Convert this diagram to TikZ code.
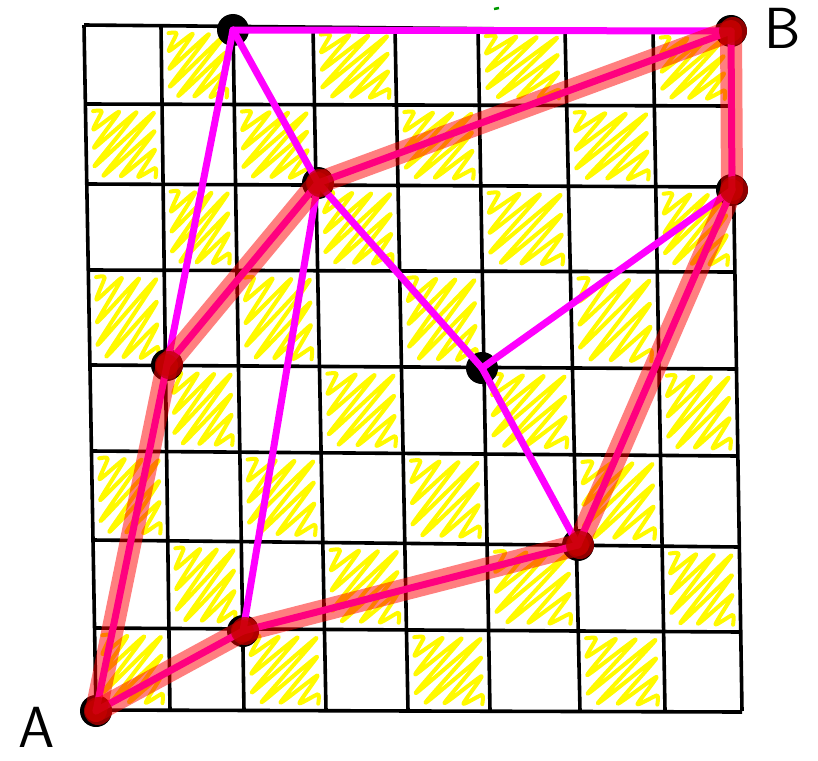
\documentclass[tikz,border=0pt]{standalone}
\usepackage{tikz}
\definecolor{linkpink}{RGB}{255,0,255}
\definecolor{scribbleyellow}{RGB}{255,250,0}

\begin{document}
\begin{tikzpicture}[x=1pt, y=-1pt,
  gridline/.style={black, line width=3.6pt},
  scribble/.style={scribbleyellow, line width=4pt, line join=round, line cap=round},
  link/.style={linkpink, line width=7pt, line cap=round},
  band/.style={red, opacity=0.5, line width=22pt, line cap=round},
  dot/.style={circle, fill=black, inner sep=0pt, minimum size=32pt},
  reddot/.style={fill=red!75!black, opacity=0.75},
  letter/.style={font=\fontsize{58}{58}\sffamily, inner sep=0pt}]
  \useasboundingbox (0,0) rectangle (818,760);

  % hand drawn grid: ends of each line
  \def\vtop{{84,161,233,313,395,478,565,653,731}}
  \def\vbot{{96,170,244,326,408,490,580,665,742}}
  \def\hleft{{25,104,184,270,365,451,540,628,710}}
  \def\hright{{31,106,187,272,369,456,547,632,712}}

  % scribbled cells
  \foreach \row in {0,...,7} {
    \foreach \col in {0,...,7} {
      \pgfmathtruncatemacro\odd{mod(\row+\col,2)}
      \ifnum\odd=1
        \pgfmathtruncatemacro\rn{\row+1}
        \pgfmathtruncatemacro\cn{\col+1}
        \pgfmathsetmacro\g{(\col+0.5)/8}
        \pgfmathsetmacro\ya{\hleft[\row]+(\hright[\row]-\hleft[\row])*\g}
        \pgfmathsetmacro\yb{\hleft[\rn]+(\hright[\rn]-\hleft[\rn])*\g}
        \pgfmathsetmacro\f{((\ya+\yb)/2-25)/686}
        \pgfmathsetmacro\xa{\vtop[\col]+(\vbot[\col]-\vtop[\col])*\f}
        \pgfmathsetmacro\xb{\vtop[\cn]+(\vbot[\cn]-\vtop[\cn])*\f}
        \pgfmathsetmacro\cx{(\xa+\xb)/2}
        \pgfmathsetmacro\cy{(\ya+\yb)/2}
        \pgfmathsetmacro\hw{(\xb-\xa)/2-7}
        \pgfmathsetmacro\hh{(\yb-\ya)/2-7}
        \draw[scribble] plot[smooth, tension=0.35, samples at={0,...,14}, variable=\k]
          ({\cx+\hw*(-1+\k/7+(2*mod(\k,2)-1)*(1-abs(-1+\k/7))*0.95)},
           {\cy+\hh*(-1+\k/7-(2*mod(\k,2)-1)*(1-abs(-1+\k/7))*0.95)});
      \fi
    }
  }

  % grid lines
  \foreach \i in {0,...,8} {
    \pgfmathsetmacro\xt{\vtop[\i]}
    \pgfmathsetmacro\xb{\vbot[\i]}
    \pgfmathsetmacro\yt{25+0.75*\i}
    \draw[gridline] (\xt,\yt) -- (\xb,711);
  }
  \foreach \j in {0,...,8} {
    \pgfmathsetmacro\yl{\hleft[\j]}
    \pgfmathsetmacro\yr{\hright[\j]}
    \pgfmathsetmacro\xl{84+12*(\yl-25)/685}
    \pgfmathsetmacro\xr{731+11*(\yr-31)/681}
    \draw[gridline] (\xl,\yl) -- (\xr,\yr);
  }
  \draw[green!60!black, line width=2.5pt] (494,9) -- (499,8);

  % points
  \node[dot] (a) at (96,711) {};
  \node[dot] (s1) at (243,631) {};
  \node[dot] (s2) at (578,545) {};
  \node[dot] (s3) at (732,190) {};
  \node[dot] (b) at (731,31) {};
  \node[dot] (n2) at (318,183) {};
  \node[dot] (n1) at (167,365) {};
  \node[dot] (top) at (233,30) {};
  \node[dot] (mid) at (482,368) {};

  % magenta edges
  \foreach \u/\v in {top/b, top/n1, top/n2, n2/s1, n2/mid, mid/s3, mid/s2,
                     a/n1, n1/n2, n2/b, b/s3, s3/s2, s2/s1, s1/a}
    \draw[link] (\u.center) -- (\v.center);

  % the red path
  \foreach \u/\v in {a/n1, n1/n2, n2/b, b/s3, s3/s2, s2/s1, s1/a}
    \draw[band] (\u.center) -- (\v.center);
  \foreach \p in {a, s1, s2, s3, b, n2, n1}
    \fill[reddot] ([xshift=2pt]\p.center) circle (14pt);

  \node[letter] (la) at (37,727) {A};
  \node[letter] (lb) at (783,28) {B};
\end{tikzpicture}
\end{document}
